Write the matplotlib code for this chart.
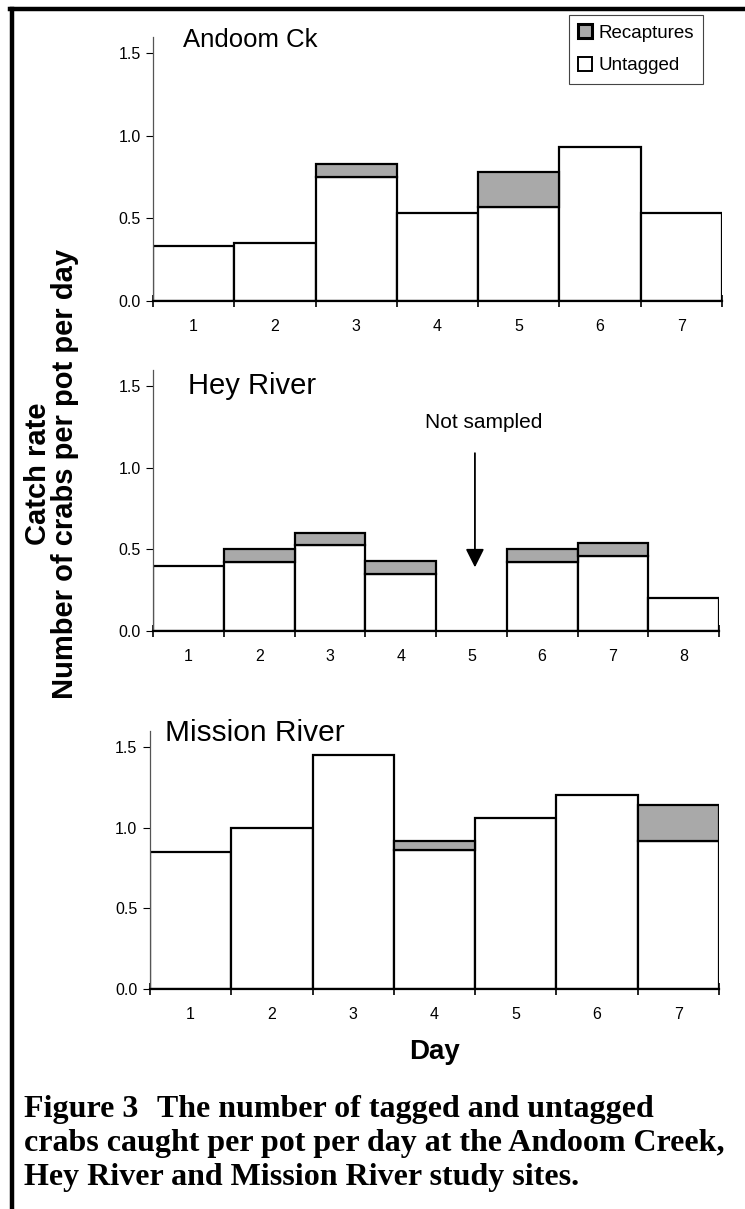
import numpy as np
import matplotlib
matplotlib.use("Agg")
import matplotlib.pyplot as plt
from matplotlib.lines import Line2D
from matplotlib.patches import Patch

plt.rcParams['font.family'] = ['Liberation Sans', 'DejaVu Sans']

# Catch rates (crabs per pot per day)
andoom_days = [1, 2, 3, 4, 5, 6, 7]
andoom_untagged = [0.33, 0.35, 0.75, 0.53, 0.57, 0.93, 0.53]
andoom_recap = [0.0, 0.0, 0.08, 0.0, 0.21, 0.0, 0.0]

hey_days = [1, 2, 3, 4, 5, 6, 7, 8]
hey_untagged = [0.40, 0.42, 0.53, 0.35, np.nan, 0.42, 0.46, 0.20]
hey_recap = [0.0, 0.08, 0.07, 0.08, np.nan, 0.08, 0.08, 0.0]

mission_days = [1, 2, 3, 4, 5, 6, 7]
mission_untagged = [0.85, 1.00, 1.45, 0.86, 1.06, 1.20, 0.92]
mission_recap = [0.0, 0.0, 0.0, 0.06, 0.0, 0.0, 0.22]

yticks = [0.0, 0.5, 1.0, 1.5]
recap_color = '#a9a9a9'

fig = plt.figure(figsize=(7.45, 12.09), dpi=100)

# Axes positions in figure fractions
ax1 = fig.add_axes([0.2054, 0.7510, 0.7638, 0.2188])
ax2 = fig.add_axes([0.2054, 0.4781, 0.7597, 0.2159])
ax3 = fig.add_axes([0.2013, 0.1820, 0.7638, 0.2134])


def draw_panel(ax, days, untagged, recap, title, title_x, title_y, title_size):
    days = np.array(days, dtype=float)
    untagged = np.array(untagged, dtype=float)
    recap = np.array(recap, dtype=float)
    ok = ~np.isnan(untagged)
    ax.bar(days[ok], untagged[ok], width=1.0, color='white',
           edgecolor='black', linewidth=1.6, zorder=2)
    has_recap = ok & (np.nan_to_num(recap) > 0)
    ax.bar(days[has_recap], recap[has_recap], bottom=untagged[has_recap],
           width=1.0, color=recap_color, edgecolor='black', linewidth=1.6,
           zorder=2)
    ax.set_xlim(days[0] - 0.5, days[-1] + 0.5)
    ax.set_ylim(0, 1.6)
    ax.set_yticks(yticks)
    ax.set_yticklabels(['%.1f' % v for v in yticks], fontsize=11.5)
    # tick marks on the bar boundaries, labels at the bar centres
    ax.set_xticks(np.arange(days[0] - 0.5, days[-1] + 1.0, 1.0))
    ax.set_xticklabels([])
    ax.set_xticks(days, minor=True)
    ax.set_xticklabels(['%d' % d for d in days], minor=True, fontsize=11.5)
    ax.tick_params(axis='x', which='major', direction='inout', length=9,
                   width=1.2)
    ax.tick_params(axis='x', which='minor', length=0, pad=13)
    ax.tick_params(axis='y', direction='out', length=5, width=0.8, pad=4)
    for s in ['top', 'right']:
        ax.spines[s].set_visible(False)
    ax.spines['left'].set_color('#555555')
    ax.spines['left'].set_linewidth(0.9)
    ax.spines['bottom'].set_linewidth(1.6)
    ax.text(title_x, title_y, title, fontsize=title_size, ha='left',
            va='center')


draw_panel(ax1, andoom_days, andoom_untagged, andoom_recap,
           'Andoom Ck', 0.87, 1.58, 18.5)
draw_panel(ax2, hey_days, hey_untagged, hey_recap, 'Hey River',
           1.0, 1.5, 21)
draw_panel(ax3, mission_days, mission_untagged, mission_recap,
           'Mission River', 0.68, 1.59, 21.5)

# "Not sampled" arrow for day 5 at Hey River
ax2.annotate('', xy=(5.05, 0.39), xytext=(5.05, 1.09),
             arrowprops=dict(arrowstyle='-|>', color='black', lw=1.3,
                             mutation_scale=28, shrinkA=0, shrinkB=0))
ax2.text(5.17, 1.276, 'Not sampled', fontsize=15, ha='center', va='center')

# Legend
handles = [Patch(facecolor=recap_color, edgecolor='black', linewidth=2.2,
                 label='Recaptures'),
           Patch(facecolor='white', edgecolor='black', linewidth=1.4,
                 label='Untagged')]
leg = fig.legend(handles=handles, loc='upper left',
                 bbox_to_anchor=(569 / 745, 1 - 15 / 1209),
                 fancybox=False, framealpha=1, edgecolor='#444444',
                 fontsize=13.5, handlelength=0.75, handleheight=0.75,
                 handletextpad=0.3, borderpad=0.5, labelspacing=0.8,
                 borderaxespad=0)
leg.get_frame().set_linewidth(0.8)

ax3.set_xlabel('Day', fontsize=20, fontweight='bold', labelpad=12)

fig.text(51.5 / 745, 1 - 474 / 1209,
         'Catch rate\nNumber of crabs per pot per day', rotation=90,
         ha='center', va='center', fontsize=21, fontweight='bold',
         linespacing=0.95)

# Caption
cap = dict(family=['Liberation Serif', 'DejaVu Serif'], fontweight='bold',
           fontsize=23, ha='left', va='center')
fig.text(24 / 745, 1 - 1110 / 1209, 'Figure 3', **cap)
fig.text(157 / 745, 1 - 1110 / 1209, 'The number of tagged and untagged', **cap)
fig.text(24 / 745, 1 - 1144 / 1209,
         'crabs caught per pot per day at the Andoom Creek,', **cap)
fig.text(24 / 745, 1 - 1178 / 1209,
         'Hey River and Mission River study sites.', **cap)

# Page frame lines (left and top)
fig.add_artist(Line2D([12 / 745, 12 / 745], [0, 1 - 9 / 1209],
                      color='black', lw=3.2, transform=fig.transFigure))
fig.add_artist(Line2D([10 / 745, 1], [1 - 9 / 1209, 1 - 9 / 1209],
                      color='black', lw=3.2, transform=fig.transFigure))

fig.savefig('out.png', dpi=100)
